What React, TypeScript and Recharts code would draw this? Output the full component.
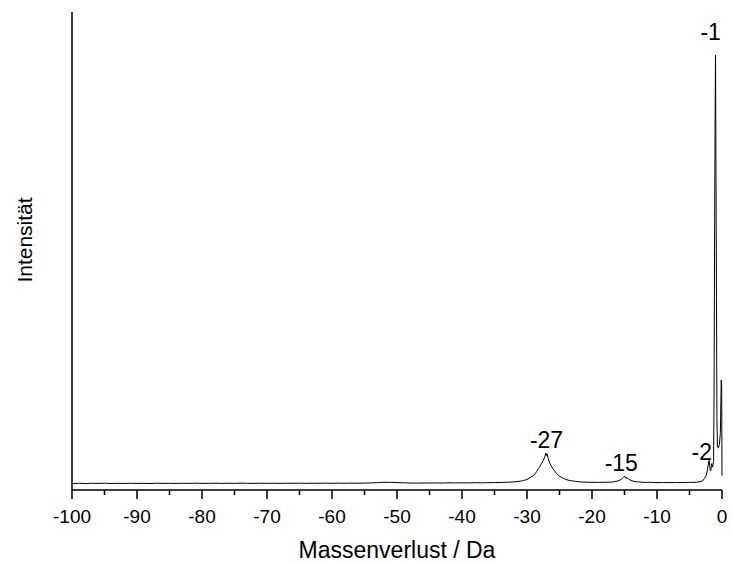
import React from 'react';
import { LineChart, Line, XAxis, YAxis, ReferenceDot, Label } from 'recharts';

// mass loss (Da) and intensity (arbitrary units, 0..100 of axis height)
const massLoss = [
  -100, -99, -98, -97, -96, -95, -94, -93, -92, -91, -90, -89, -88, -87, -86, -85, -84, -83, -82, -81,
  -80, -79, -78, -77, -76, -75, -74, -73, -72, -71, -70, -69, -68, -67, -66, -65, -64, -63, -62, -61,
  -60, -59, -58, -57, -56, -55, -54, -53, -52, -51, -50, -49, -48, -47, -46, -45, -44, -43, -42, -41,
  -40, -39, -38, -37, -36, -35, -34, -33, -32, -31, -30.5, -30, -29.5, -29, -28.75, -28.5, -28.25, -28,
  -27.75, -27.5, -27.25, -27.1, -27, -26.9, -26.75, -26.5, -26.25, -26, -25.75, -25.5, -25.25, -25,
  -24.75, -24.5, -24, -23.5, -23, -22.5, -22, -21, -20, -19, -18, -17, -16.5, -16, -15.5, -15.2, -15,
  -14.8, -14.6, -14.4, -14, -13.5, -13, -12, -11, -10, -9, -8, -7, -6, -5, -4, -3.5, -3, -2.7, -2.4,
  -2.2, -2.0, -1.9, -1.8, -1.7, -1.6, -1.45, -1.3, -1.22, -1.15, -1.05, -1.0, -0.95, -0.85, -0.78,
  -0.7, -0.55, -0.4, -0.25, -0.12, -0.05, 0,
];

const intensity = [
  1.35, 1.4, 1.35, 1.4, 1.38, 1.42, 1.36, 1.4, 1.37, 1.41, 1.38, 1.4, 1.36, 1.42, 1.38, 1.4, 1.37, 1.41, 1.39, 1.43,
  1.38, 1.4, 1.42, 1.38, 1.41, 1.39, 1.43, 1.4, 1.38, 1.42, 1.4, 1.41, 1.38, 1.42, 1.4, 1.43, 1.39, 1.42, 1.4, 1.44,
  1.41, 1.43, 1.4, 1.44, 1.42, 1.45, 1.48, 1.55, 1.62, 1.6, 1.55, 1.5, 1.46, 1.44, 1.47, 1.45, 1.48, 1.46, 1.5, 1.48,
  1.5, 1.49, 1.52, 1.5, 1.53, 1.55, 1.58, 1.62, 1.7, 1.85, 2.0, 2.2, 2.6, 3.0, 3.4, 3.9, 4.5, 5.0,
  5.6, 6.2, 7.0, 7.7, 7.2, 7.5, 6.6, 5.6, 5.0, 4.4, 4.0, 3.5, 3.2, 2.9,
  2.7, 2.5, 2.2, 2.0, 1.9, 1.8, 1.7, 1.65, 1.6, 1.6, 1.62, 1.65, 1.75, 1.9, 2.2, 2.6, 2.9,
  2.4, 2.6, 2.3, 2.0, 1.8, 1.7, 1.6, 1.6, 1.55, 1.55, 1.55, 1.55, 1.58, 1.6, 1.62, 1.7, 1.9, 2.4, 3.1,
  4.6, 6.2, 5.2, 4.0, 4.2, 5.5, 4.8, 6.0, 20, 50, 80, 91, 75, 40, 15,
  9.0, 8.8, 9.5, 12, 23, 22, 3,
];

const xTicks = [
  -100, -95, -90, -85, -80, -75, -70, -65, -60, -55, -50, -45, -40, -35, -30, -25, -20, -15, -10, -5, 0,
];

const peakLabels = ['-27', '-15', '-2', '-1'];
const peakLabelX = [-27, -15.5, -3.1, -1.75];
const peakLabelY = [7.7, 2.8, 6.0, 93.3];
const peakLabelOffset = [5, 6, 1, 4];

const data = massLoss.map((m, i) => ({ m, v: intensity[i] }));

const FONT = '"Liberation Sans", Arial, sans-serif';

const MassTick = (props: any) => {
  const { x, y, payload } = props;
  const major = payload.value % 10 === 0;
  return (
    <g>
      <line x1={x} y1={y} x2={x} y2={y + (major ? 9 : 5)} stroke="#000" strokeWidth={1.5} />
      {major && (
        <text x={x} y={y + 33} textAnchor="middle" fontSize={19} fontFamily={FONT} fill="#000">
          {payload.value}
        </text>
      )}
    </g>
  );
};

const YTitle = (props: any) => {
  const { viewBox } = props;
  const x = viewBox.x + 32;
  const y = viewBox.y + viewBox.height / 2 - 11;
  return (
    <text
      x={x}
      y={y}
      transform={`rotate(-90 ${x} ${y})`}
      textAnchor="middle"
      fontSize={21}
      fontFamily={FONT}
      fill="#000"
    >
      Intensität
    </text>
  );
};

export default function App() {
  return (
    <div style={{ position: 'absolute', left: 0, top: 0, background: '#fff' }}>
      <LineChart width={732} height={564} data={data} margin={{ top: 12, right: 10, bottom: 0, left: 0 }}>
        <XAxis
          dataKey="m"
          type="number"
          domain={[-100, 0]}
          ticks={xTicks}
          interval={0}
          tickSize={0}
          tickMargin={0}
          tickLine={false}
          tick={<MassTick />}
          axisLine={{ stroke: '#000', strokeWidth: 1.5 }}
          height={74}
        >
          <Label
            value="Massenverlust / Da"
            position="insideBottom"
            offset={6}
            fontSize={23}
            fontFamily={FONT}
            fill="#000"
          />
        </XAxis>
        <YAxis
          type="number"
          domain={[0, 100]}
          allowDataOverflow
          tick={false}
          tickLine={false}
          axisLine={{ stroke: '#000', strokeWidth: 1.5 }}
          width={72}
        >
          <Label content={<YTitle />} />
        </YAxis>
        <Line
          type="linear"
          dataKey="v"
          stroke="#000"
          strokeWidth={1}
          dot={false}
          isAnimationActive={false}
        />
        {peakLabels.map((t, i) => (
          <ReferenceDot
            key={t}
            x={peakLabelX[i]}
            y={peakLabelY[i]}
            r={0}
            fill="none"
            stroke="none"
            label={{
              value: t,
              position: 'top',
              offset: peakLabelOffset[i],
              fontSize: 23,
              fontFamily: FONT,
              fill: '#000',
            }}
          />
        ))}
      </LineChart>
    </div>
  );
}
